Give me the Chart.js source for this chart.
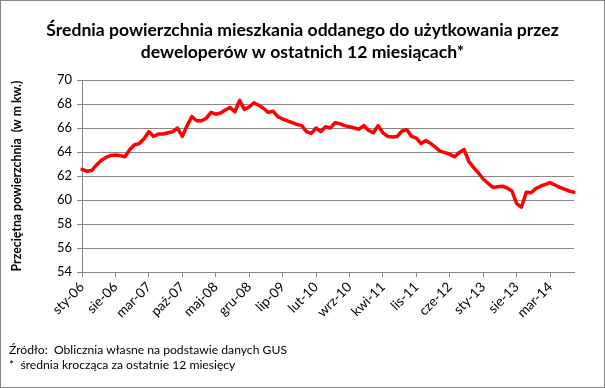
<!DOCTYPE html>
<html><head><meta charset="utf-8">
<script src="https://cdn.jsdelivr.net/npm/chart.js@4.4.1/dist/chart.umd.min.js"></script>
<style>
html,body{margin:0;padding:0;background:#fff;}
#wrap{position:relative;width:605px;height:388px;}
canvas{position:absolute;left:0;top:0;}
#frame{position:absolute;left:0;top:0;width:605px;height:388px;box-sizing:border-box;border:1px solid #868686;pointer-events:none;}
</style></head><body>
<div id="wrap"><canvas id="c" width="605" height="388"></canvas><div id="frame"></div></div>
<script>
// ---- data ----
const monthNames = ['sty','lut','mar','kwi','maj','cze','lip','sie','wrz','paź','lis','gru'];
const startYear = 2006;
const values = [
  62.55, 62.4, 62.45, 62.9, 63.3, 63.55, 63.7, 63.75, 63.7, 63.6,
  64.2, 64.6, 64.7, 65.1, 65.7, 65.3, 65.5, 65.5, 65.6, 65.7,
  66.0, 65.3, 66.2, 66.95, 66.6, 66.6, 66.8, 67.3, 67.15, 67.25,
  67.5, 67.7, 67.35, 68.3,
  67.55, 67.75, 68.1, 67.9, 67.65, 67.3, 67.4, 66.95, 66.75, 66.6,
  66.45, 66.3, 66.2, 65.7, 65.55, 66.0, 65.7, 66.1, 66.0,
  66.45, 66.35, 66.2, 66.1, 66.0, 65.9, 66.2, 65.8, 65.6, 66.2,
  65.6, 65.3, 65.25, 65.3, 65.75, 65.85, 65.3, 65.15, 64.7, 64.95,
  64.7, 64.4, 64.05, 63.95, 63.8, 63.6,
  63.95, 64.2, 63.2, 62.7, 62.25, 61.75, 61.4, 61.05, 61.1, 61.15,
  61.0, 60.75, 59.7, 59.4, 60.65, 60.6, 60.95, 61.15, 61.3, 61.45,
  61.25, 61.05, 60.9, 60.75, 60.65
];
const tickEvery = 7;
const categories = values.map((v, i) =>
  monthNames[i % 12] + '-' + String((startYear + Math.floor(i / 12)) % 100).padStart(2, '0'));
const yMin = 54, yMax = 70, yStep = 2;
const titleLines = ['Średnia powierzchnia mieszkania oddanego do użytkowania przez',
                    'deweloperów w ostatnich 12 miesiącach*'];
const yTitle = 'Przeciętna powierzchnia  (w m kw.)';
const notes = ['Źródło:  Oblicznia własne na podstawie danych GUS',
               '*  średnia krocząca za ostatnie 12 miesięcy'];

// ---- styling helpers ----
const FAM = 'Lato, "Open Sans", sans-serif';
const GRID = '#868686';
const mctx = document.createElement('canvas').getContext('2d');
function fit(text, weight, target) {
  mctx.font = weight + ' 100px ' + FAM;
  return 100 * target / mctx.measureText(text).width;
}
const titleSize = fit(titleLines[0], 'bold', 513);
const yTitleSize = fit(yTitle, 'bold', 191);
const noteSize = fit(notes[0], 'normal', 278);

const notesPlugin = {
  id: 'notes',
  afterDraw(chart) {
    const ctx = chart.ctx;
    ctx.save();
    ctx.fillStyle = '#000';
    ctx.font = noteSize.toFixed(2) + 'px ' + FAM;
    ctx.textBaseline = 'middle';
    ctx.textAlign = 'left';
    ctx.fillText(notes[0], 9, 350.5);
    ctx.fillText(notes[1], 9, 365.5);
    ctx.restore();
  }
};

new Chart(document.getElementById('c'), {
  type: 'line',
  data: {
    labels: categories,
    datasets: [{
      data: values,
      borderColor: '#FF0000',
      borderWidth: 3.5,
      pointRadius: 0,
      tension: 0,
      borderJoinStyle: 'round',
      borderCapStyle: 'round',
      fill: false
    }]
  },
  options: {
    responsive: false,
    animation: false,
    devicePixelRatio: 1,
    layout: { padding: { left: 0, right: 0, top: 0, bottom: 0 } },
    plugins: {
      legend: { display: false },
      tooltip: { enabled: false },
      title: {
        display: true,
        text: titleLines,
        color: '#000',
        font: { family: FAM, weight: 'bold', size: titleSize, lineHeight: '21.5px' },
        padding: { top: 19.75, bottom: 17.25 }
      }
    },
    scales: {
      x: {
        type: 'category',
        offset: false,
        afterFit(s) { s.height = 116; },
        grid: {
          drawOnChartArea: false,
          drawTicks: true,
          tickLength: 5,
          color: ctx => (ctx.index % tickEvery === 0 ? GRID : 'rgba(0,0,0,0)')
        },
        border: { display: true, color: GRID, width: 1 },
        ticks: {
          autoSkip: false,
          maxRotation: 45,
          minRotation: 45,
          padding: 2,
          color: '#000',
          font: { family: FAM, size: 13.5 },
          callback(v, i) { return i % tickEvery === 0 ? categories[i] : ''; }
        }
      },
      y: {
        min: yMin, max: yMax,
        afterFit(s) { s.width = 82; },
        grid: { color: GRID, lineWidth: 1, drawTicks: true, tickLength: 5 },
        border: { display: true, color: GRID, width: 1 },
        ticks: {
          stepSize: yStep,
          padding: 5,
          color: '#000',
          font: { family: FAM, size: 13 }
        },
        title: {
          display: true,
          text: yTitle,
          color: '#000',
          font: { family: FAM, weight: 'bold', size: yTitleSize, lineHeight: '12px' },
          padding: { top: 11, bottom: 0 }
        }
      },
      yRightSpace: {
        type: 'linear',
        position: 'right',
        display: true,
        afterFit(s) { s.width = 31; },
        grid: { display: false, drawOnChartArea: false },
        border: { display: false },
        ticks: { display: false }
      }
    }
  },
  plugins: [notesPlugin]
});
</script>
</body></html>
